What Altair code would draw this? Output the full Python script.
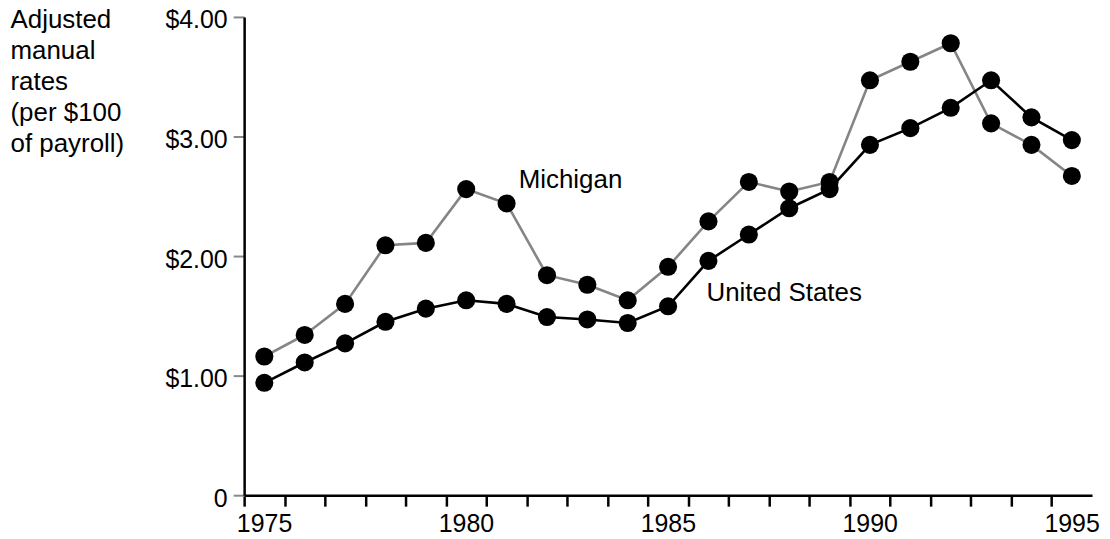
import altair as alt
import pandas as pd

# ---- data ----
years = list(range(1975, 1996))
michigan = [1.16, 1.34, 1.60, 2.09, 2.11, 2.56, 2.44, 1.84, 1.76, 1.63, 1.91,
            2.29, 2.62, 2.54, 2.62, 3.47, 3.625, 3.78, 3.11, 2.93, 2.67]
united_states = [0.94, 1.11, 1.27, 1.45, 1.56, 1.63, 1.60, 1.49, 1.47, 1.44, 1.58,
                 1.96, 2.18, 2.40, 2.56, 2.93, 3.07, 3.24, 3.47, 3.16, 2.97]
series_names = ["Michigan", "United States"]
series_colors = ["#858585", "#000000"]

label_text = ["Michigan", "United States"]
label_year = [1981.8, 1986.45]
label_value = [2.57, 1.625]

y_ticks = [0, 1, 2, 3, 4]
x_ticks = years
y_title = ["Adjusted", "manual", "rates", "(per $100", "of payroll)"]

FONT = "Liberation Sans"

rows = []
for name, vals in zip(series_names, [michigan, united_states]):
    for yr, v in zip(years, vals):
        rows.append({"series": name, "year": yr + 0.5, "rate": v})
df = pd.DataFrame(rows)
ann = pd.DataFrame({"text": label_text, "year": label_year, "rate": label_value})

x_scale = alt.Scale(domain=[1975, 1996], nice=False, zero=False)
y_scale = alt.Scale(domain=[0, 4], nice=False)

x_enc = alt.X("year:Q", scale=x_scale, axis=alt.Axis(
    values=x_ticks, title=None, grid=False,
    labelExpr="datum.value % 5 == 0 ? '' + datum.value : ''",
    labelOffset=20, labelFontSize=25, labelFont=FONT, labelColor="#000",
    labelPadding=5, labelFlush=False, labelOverlap=False,
    tickSize=11, tickWidth=2.5, tickColor="#000",
    domainColor="#000", domainWidth=2.5))

y_enc = alt.Y("rate:Q", scale=y_scale, axis=alt.Axis(
    values=y_ticks, grid=False,
    labelExpr="datum.value == 0 ? '0' : '$' + format(datum.value, '.2f')",
    labelFontSize=25, labelFont=FONT, labelColor="#000", labelPadding=6,
    labelOffset=3, labelFlush=False,
    tickSize=11, tickWidth=2, tickColor="#888",
    domainColor="#000", domainWidth=2.5,
    title=y_title, titleAngle=0, titleAlign="left", titleBaseline="alphabetic",
    titleX=-235, titleY=10.7, titleFontSize=26, titleFont=FONT,
    titleFontWeight="normal", titleColor="#000", titleLineHeight=31.1))

lines = alt.Chart(df).mark_line(strokeWidth=2.6).encode(
    x=x_enc, y=y_enc,
    color=alt.Color("series:N", scale=alt.Scale(domain=series_names, range=series_colors), legend=None),
    detail="series:N",
)

points = alt.Chart(df).mark_circle(size=330, color="#000", opacity=1).encode(
    x=alt.X("year:Q", scale=x_scale), y=alt.Y("rate:Q", scale=y_scale),
)

labels = alt.Chart(ann).mark_text(align="left", baseline="alphabetic", fontSize=26,
                                  font=FONT, color="#000").encode(
    x=alt.X("year:Q", scale=x_scale), y=alt.Y("rate:Q", scale=y_scale), text="text:N")

chart = alt.layer(lines, points, labels).properties(
    width=851, height=480,
    autosize=alt.AutoSizeParams(type="none"),
    padding={"left": 237, "top": 8, "right": 10, "bottom": 40},
).configure_view(stroke=None)

chart.save("out.html", embed_options={"renderer": "svg", "actions": False})
